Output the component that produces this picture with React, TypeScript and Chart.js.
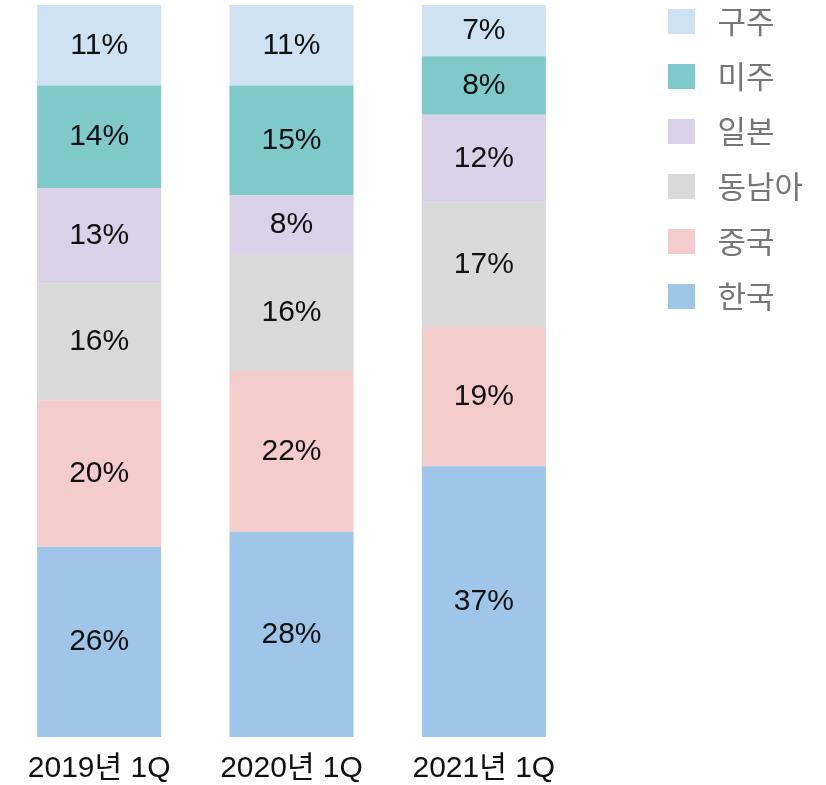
import React, { useEffect, useRef } from "react";
import { Chart, registerables } from "chart.js";

Chart.register(...registerables);

const categories = ["2019년 1Q", "2020년 1Q", "2021년 1Q"];
const seriesNames = ["한국", "중국", "동남아", "일본", "미주", "구주"];
const korea = [26, 28, 37];
const china = [20, 22, 19];
const seAsia = [16, 16, 17];
const japan = [13, 8, 12];
const americas = [14, 15, 8];
const europe = [11, 11, 7];
const seriesValues = [korea, china, seAsia, japan, americas, europe];
const seriesColors = ["#9FC5E8", "#F4CCCC", "#D9D9D9", "#D9D2E9", "#80C9CB", "#CFE2F3"];

const FONT = "'Liberation Sans', 'Noto Sans CJK KR', sans-serif";

const valueLabels = {
  id: "valueLabels",
  afterDatasetsDraw(chart: any) {
    const ctx = chart.ctx;
    ctx.save();
    ctx.font = `30px ${FONT}`;
    ctx.fillStyle = "#111";
    ctx.textAlign = "center";
    ctx.textBaseline = "middle";
    chart.data.datasets.forEach((ds: any, di: number) => {
      const meta = chart.getDatasetMeta(di);
      meta.data.forEach((el: any, i: number) => {
        const v = ds.data[i];
        const y = (el.y + el.base) / 2;
        ctx.fillText(`${v}%`, el.x, y);
      });
    });
    ctx.restore();
  },
};

export default function App() {
  const ref = useRef<HTMLCanvasElement>(null);
  useEffect(() => {
    if (!ref.current) return;
    const chart = new Chart(ref.current, {
      type: "bar",
      data: {
        labels: categories,
        datasets: seriesNames.map((name, i) => ({
          label: name,
          data: seriesValues[i],
          backgroundColor: seriesColors[i],
          borderWidth: 0,
          categoryPercentage: 1,
          barPercentage: 0.645,
        })),
      },
      options: {
        animation: false,
        responsive: false,
        maintainAspectRatio: false,
        layout: { padding: { top: -18, right: 13, left: 3, bottom: -16 } },
        scales: {
          x: {
            stacked: true,
            grid: { display: false, drawTicks: false },
            border: { display: false },
            ticks: { color: "#111", font: { size: 30, family: FONT }, padding: 14 },
          },
          y: {
            stacked: true,
            min: 0,
            max: 100,
            position: "right",
            grid: { display: false, drawTicks: false },
            border: { display: false },
            ticks: { display: false },
            afterFit: (s: any) => {
              s.width = 64;
            },
          },
        },
        plugins: {
          title: {
            display: true,
            text: "",
            font: { size: 10, lineHeight: 1 },
            padding: { top: 0, bottom: 13 },
          },
          tooltip: { enabled: false },
          legend: {
            position: "right",
            align: "start",
            reverse: true,
            labels: {
              boxWidth: 27,
              boxHeight: 25,
              padding: 24,
              color: "#767676",
              font: { size: 31, family: "'Noto Sans CJK KR', sans-serif" },
              generateLabels: (chart: any) =>
                Chart.defaults.plugins.legend.labels
                  .generateLabels(chart)
                  .map((l: any) => ({ ...l, text: " " + l.text })),
            },
          },
        },
      },
      plugins: [valueLabels],
    });
    return () => chart.destroy();
  }, []);
  return (
    <div style={{ position: "absolute", left: 0, top: 0, width: 826, height: 785 }}>
      <canvas ref={ref} width={826} height={785} style={{ width: 826, height: 785 }} />
    </div>
  );
}
